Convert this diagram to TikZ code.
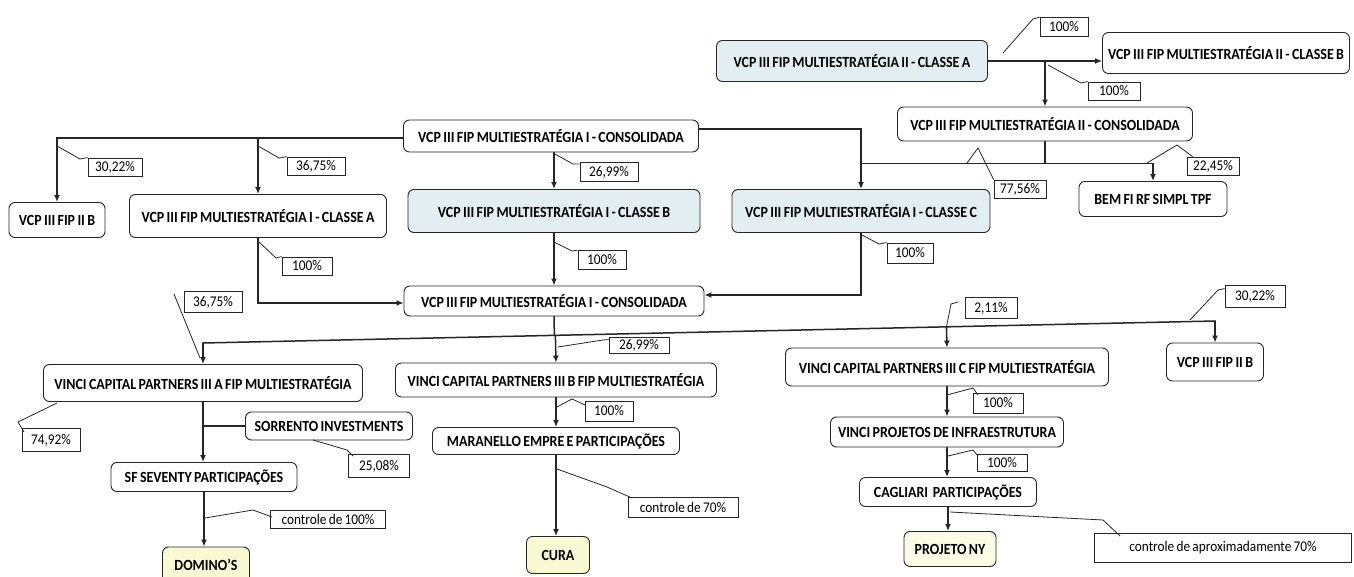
\documentclass[tikz,border=0pt]{standalone}
\usepackage{fontspec}
\setmainfont{Carlito}[FakeStretch=0.9,WordSpace=0.75]
\usetikzlibrary{arrows.meta,calc}
\definecolor{bluefill}{HTML}{E3EEF3}
\definecolor{yelfill}{HTML}{FAFAD2}
\definecolor{yelfill2}{HTML}{FCFCE6}
\definecolor{ink}{HTML}{262626}
\begin{document}
\begin{tikzpicture}[x=1pt,y=-1pt,
  bx/.style={draw=ink, line width=0.9pt, rounded corners=6pt, font=\fontsize{15.5}{17}\selectfont\bfseries, inner sep=2pt, fill=white, text=black},
  lbl/.style={draw=ink, line width=0.8pt, font=\fontsize{14.8}{16}\selectfont, inner sep=1pt, fill=white, text=black},
  arr/.style={draw=ink, line width=1.5pt, line cap=round, -{Latex[length=7pt,width=6pt]}},
  ln/.style={draw=ink, line width=1.5pt, line cap=round},
  lead/.style={draw=ink, line width=0.8pt},
]
\fill[white] (0,0) rectangle (1354,577);
\useasboundingbox (0,0) rectangle (1354,577);

% ---------- boxes ----------
\node[bx,fill=bluefill,minimum width=271pt,minimum height=41pt] (a2) at (852,61) {VCP III FIP MULTIESTRATÉGIA II - CLASSE A};
\node[bx,minimum width=247pt,minimum height=41pt] (b2) at (1226,53) {VCP III FIP MULTIESTRATÉGIA II - CLASSE B};
\node[bx,minimum width=295pt,minimum height=34pt] (c2) at (1045,124) {VCP III FIP MULTIESTRATÉGIA II - CONSOLIDADA};
\node[bx,minimum width=148pt,minimum height=35pt] (bem) at (1153,199) {BEM FI RF SIMPL TPF};
\node[bx,minimum width=295pt,minimum height=32pt] (c1) at (551,136) {VCP III FIP MULTIESTRATÉGIA I - CONSOLIDADA};
\node[bx,minimum width=96pt,minimum height=35pt] (fb1) at (57,220) {VCP III FIP II B};
\node[bx,minimum width=257pt,minimum height=43pt] (ca1) at (258,216) {VCP III FIP MULTIESTRATÉGIA I - CLASSE A};
\node[bx,fill=bluefill,minimum width=292pt,minimum height=43pt] (cb1) at (554,211) {VCP III FIP MULTIESTRATÉGIA I - CLASSE B};
\node[bx,fill=bluefill,minimum width=258pt,minimum height=43pt] (cc1) at (861,211) {VCP III FIP MULTIESTRATÉGIA I - CLASSE C};
\node[bx,minimum width=300pt,minimum height=30pt] (c1b) at (554,301) {VCP III FIP MULTIESTRATÉGIA I - CONSOLIDADA};
\node[bx,minimum width=319pt,minimum height=37pt] (va) at (203,383) {VINCI CAPITAL PARTNERS III A FIP MULTIESTRATÉGIA};
\node[bx,minimum width=321pt,minimum height=34pt] (vb) at (556,380) {VINCI CAPITAL PARTNERS III B FIP MULTIESTRATÉGIA};
\node[bx,minimum width=323pt,minimum height=38pt] (vc) at (947,367) {VINCI CAPITAL PARTNERS III C FIP MULTIESTRATÉGIA};
\node[bx,minimum width=97pt,minimum height=38pt] (fb2) at (1215,362) {VCP III FIP II B};
\node[bx,minimum width=167pt,minimum height=28pt] (sor) at (329,426) {SORRENTO INVESTMENTS};
\node[bx,minimum width=186pt,minimum height=29pt] (sf) at (204,477) {SF SEVENTY PARTICIPAÇÕES};
\node[bx,fill=yelfill,minimum width=87pt,minimum height=36pt] (dom) at (206,565) {DOMINO'S};
\node[bx,minimum width=247pt,minimum height=27pt] (mar) at (556,441) {MARANELLO EMPRE E PARTICIPAÇÕES};
\node[bx,fill=yelfill,minimum width=63pt,minimum height=37pt] (cura) at (558,555) {CURA};
\node[bx,minimum width=233pt,minimum height=30pt] (inf) at (947,432) {VINCI PROJETOS DE INFRAESTRUTURA};
\node[bx,minimum width=177pt,minimum height=29pt] (cag) at (948,492) {CAGLIARI\ \ PARTICIPAÇÕES};
\node[bx,fill=yelfill2,minimum width=92pt,minimum height=35pt] (pny) at (950,549) {PROJETO NY};

% ---------- labels ----------
\node[lbl,minimum width=48pt,minimum height=19pt] (l1) at (1064,27) {100\%};
\node[lbl,minimum width=52pt,minimum height=18pt] (l2) at (1114,91) {100\%};
\node[lbl,minimum width=52pt,minimum height=18pt] (l3) at (1020,189) {77,56\%};
\node[lbl,minimum width=52pt,minimum height=18pt] (l4) at (1213,166) {22,45\%};
\node[lbl,minimum width=54pt,minimum height=18pt] (l5) at (115,167) {30,22\%};
\node[lbl,minimum width=58pt,minimum height=18pt] (l6) at (316,166) {36,75\%};
\node[lbl,minimum width=58pt,minimum height=19pt] (l7) at (609,172) {26,99\%};
\node[lbl,minimum width=50pt,minimum height=18pt] (l8) at (307,266) {100\%};
\node[lbl,minimum width=48pt,minimum height=19pt] (l9) at (602,260) {100\%};
\node[lbl,minimum width=46pt,minimum height=20pt] (l10) at (910,253) {100\%};
\node[lbl,minimum width=58pt,minimum height=21pt] (l11) at (213,302) {36,75\%};
\node[lbl,minimum width=60pt,minimum height=16pt] (l12) at (639,345) {26,99\%};
\node[lbl,minimum width=52pt,minimum height=21pt] (l13) at (991,308) {2,11\%};
\node[lbl,minimum width=60pt,minimum height=22pt] (l14) at (1255,296) {30,22\%};
\node[lbl,minimum width=58pt,minimum height=23pt] (l15) at (51,440) {74,92\%};
\node[lbl,minimum width=61pt,minimum height=23pt] (l16) at (379,466) {25,08\%};
\node[lbl,minimum width=115pt,minimum height=18pt] (l17) at (328,519) {controle de 100\%};
\node[lbl,minimum width=48pt,minimum height=20pt] (l18) at (609,411) {100\%};
\node[lbl,minimum width=110pt,minimum height=20pt] (l19) at (683,507) {controle de 70\%};
\node[lbl,minimum width=50pt,minimum height=20pt] (l20) at (998,403) {100\%};
\node[lbl,minimum width=50pt,minimum height=17pt] (l21) at (1002,463) {100\%};
\node[lbl,minimum width=257pt,minimum height=29pt] (l22) at (1223,548) {controle de aproximadamente 70\%};

% ---------- connectors: fund II ----------
\draw[arr] (a2.east) -- (a2.east -| b2.west);
\draw[arr] (a2.east -| c2.north) -- (c2.north);
\coordinate (bus2) at ($(c2.south)+(0,22)$);
\draw[ln] (c2.south) -- (bus2);
\draw[ln] (bus2) -- (bus2 -| cc1.north);
\draw[arr] (bus2) -| (bem.north);

% ---------- connectors: fund I ----------
\draw[arr] ([yshift=-2pt]c1.west) -| (fb1.north);
\draw[arr] ([yshift=-2pt]c1.west -| ca1.north) -- (ca1.north);
\draw[arr] (c1.south -| cb1.north) -- (cb1.north);
\draw[arr] ([yshift=7pt]c1.east) -| (cc1.north);
\draw[arr] (ca1.south) |- ([yshift=-2pt]c1b.west);
\draw[arr] (cb1.south) -- (cb1.south |- c1b.north);
\draw[arr] (cc1.south) |- ([yshift=6pt]c1b.east);

% ---------- bus to the Vinci funds ----------
\coordinate (busL) at (203,343);
\coordinate (busR) at (1215,321);
\draw[ln] (busL) -- (busR);
\draw[ln] (c1b.south) -- ($(busL)!(c1b.south)!(busR)$);
\draw[arr] (busL) -- (va.north);
\draw[arr] ($(busL)!(vb.north)!(busR)$) -- (vb.north);
\draw[arr] ($(busL)!(vc.north)!(busR)$) -- (vc.north);
\draw[arr] (busR) -- (fb2.north);

% ---------- lower chains ----------
\draw[arr] (va.south) -- (va.south |- sf.north);
\draw[ln] (sor.west) -- (sor.west -| va.south);
\draw[arr] (sf.south) -- (sf.south |- dom.north);
\draw[arr] (vb.south) -- (vb.south |- mar.north);
\draw[arr] (mar.south) -- (mar.south |- cura.north);
\draw[arr] (vc.south) -- (vc.south |- inf.north);
\draw[arr] (inf.south) -- (inf.south |- cag.north);
\draw[arr] (cag.south) -- (cag.south |- pny.north);

% ---------- leader lines ----------
\draw[lead] (1003,53) -- (1033,19) -- (l1.north west);
\draw[lead] (1048,65) -- (1081,83) -- (l2.north west);
\draw[lead] (967,163) -- (978,148) -- (l3.north west);
\draw[lead] (1147,163) -- (1177,145) -- ([xshift=6pt]l4.north west);
\draw[lead] (57,146) -- (80,159) -- (l5.north west);
\draw[lead] (258,146) -- (279,158) -- (l6.north west);
\draw[lead] (553,153) -- (573,164) -- ([yshift=-2pt]l7.north west);
\draw[lead] (259,242) -- (276,258) -- (l8.north west);
\draw[lead] (554,242) -- (572,251) -- (l9.north west);
\draw[lead] (862,235) -- (879,244) -- (l10.north west);
\draw[lead] (174,294) -- (200,358);
\draw[lead] (558,347) -- (603,340) -- ([yshift=-3pt]l12.north west);
\draw[lead] (946,329) -- (951,304) -- (958,302);
\draw[lead] (1190,320) -- (1218,290) -- ([yshift=-4pt]l14.north west);
\draw[lead] (57,403) -- (18,422) -- (24,432);
\draw[lead] (313,440) -- (347,450) -- (353,456);
\draw[lead] (205,518) -- (253,510) -- (272,517);
\draw[lead] (557,407) -- (572,399) -- (585,405);
\draw[lead] (557,469) -- (607,487) -- (632,498);
\draw[lead] (947,395) -- (973,388) -- (978,395);
\draw[lead] (948,456) -- (973,450) -- (978,456);
\draw[lead] (950,512) -- (1103,520) -- (1120,536);
\end{tikzpicture}
\end{document}
